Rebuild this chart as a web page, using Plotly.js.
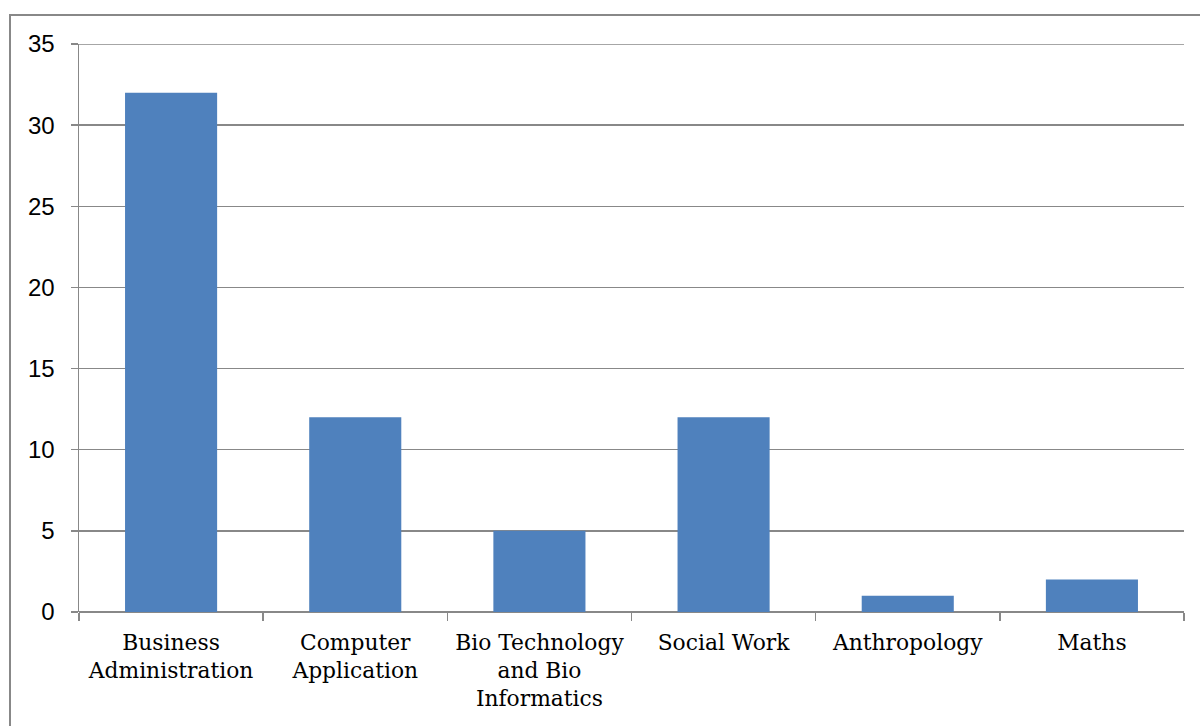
<!DOCTYPE html>
<html>
<head>
<meta charset="utf-8">
<script src="https://cdn.plot.ly/plotly-3.0.1.min.js"></script>
<style>html,body{margin:0;padding:0;background:#fff;}#chart{width:1200px;height:726px;}</style>
</head>
<body>
<div id="chart"></div>
<script>
const categories = ["Business<br>Administration", "Computer<br>Application", "Bio Technology<br>and Bio<br>Informatics", "Social Work", "Anthropology", "Maths"];
const values = [32, 12, 5, 12, 1, 2];
const yTicks = [0, 5, 10, 15, 20, 25, 30, 35];

const L = 79, R = 1200 - 1184, T = 44, B = 726 - 612;
const plotW = 1200 - L - R, plotH = 726 - T - B;
const px = v => (v - L) / plotW;
const py = v => (726 - B - v) / plotH;

const data = [{
  type: 'bar',
  x: categories,
  y: values,
  marker: {color: '#4F81BD', line: {width: 0}},
  hoverinfo: 'x+y'
}];

const layout = {
  width: 1200, height: 726,
  margin: {l: L, r: R, t: T, b: B, pad: 0},
  paper_bgcolor: '#ffffff', plot_bgcolor: '#ffffff',
  showlegend: false,
  bargap: 0.5,
  xaxis: {
    type: 'category',
    showgrid: false,
    showline: false,
    zeroline: false,
    ticks: 'outside', tickson: 'boundaries', ticklen: 8, tickwidth: 1.5, tickcolor: '#888888',
    ticklabelstandoff: 15,
    tickfont: {family: 'DejaVu Serif', size: 21.8, color: '#000000'},
    tickangle: 0,
    automargin: false
  },
  yaxis: {
    range: [0, 35],
    tickvals: yTicks,
    ticktext: yTicks.map(String),
    showgrid: true, gridcolor: '#888888', gridwidth: 1.5,
    zeroline: true, zerolinecolor: '#888888', zerolinewidth: 1.5,
    showline: true, linecolor: '#888888', linewidth: 1.5,
    ticks: 'outside', ticklen: 7, tickwidth: 1.5, tickcolor: '#888888',
    ticklabelstandoff: 11,
    tickfont: {family: 'Liberation Sans', size: 24, color: '#000000'},
    automargin: false
  },
  shapes: [{
    type: 'rect', xref: 'paper', yref: 'paper',
    x0: px(10), x1: px(1260), y0: py(780), y1: py(15),
    line: {color: '#888888', width: 2}, fillcolor: 'rgba(0,0,0,0)', layer: 'below'
  }, {
    type: 'line', xref: 'paper', yref: 'y',
    x0: 0, x1: 1, y0: 35, y1: 35,
    line: {color: '#888888', width: 1.5}, layer: 'below'
  }]
};

Plotly.newPlot('chart', data, layout, {displayModeBar: false, staticPlot: true});
</script>
</body>
</html>
